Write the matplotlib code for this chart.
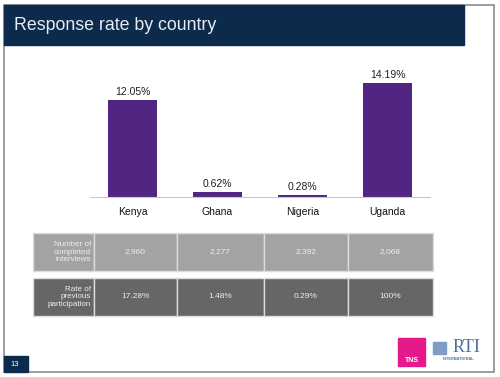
import matplotlib.pyplot as plt
from matplotlib.patches import Rectangle

plt.rcParams['font.family'] = ['Liberation Sans', 'DejaVu Sans']

# Data
countries = ["Kenya", "Ghana", "Nigeria", "Uganda"]
response_rate = [12.05, 0.62, 0.28, 14.19]
interviews = ["2,960", "2,277", "2,392", "2,068"]
prev_participation = ["17.28%", "1.48%", "0.29%", "100%"]
row_labels = ["Number of\ncompleted\ninterviews", "Rate of\nprevious\nparticipation"]

W, H = 500, 377
fig = plt.figure(figsize=(W / 100, H / 100), dpi=100)

# overlay axes in pixel coordinates (origin top-left)
bg = fig.add_axes([0, 0, 1, 1])
bg.set_xlim(0, W)
bg.set_ylim(H, 0)
bg.axis('off')

# slide frame
bg.add_patch(Rectangle((4, 5), 490, 367, fill=False, edgecolor='#8c8c8c', lw=1.2))

# title bar
navy = '#0b2a4c'
bg.add_patch(Rectangle((4, 5), 460, 40, color=navy))
bg.text(14, 25, "Response rate by country", color='#e8ecf0', fontsize=12.8,
        va='center', ha='left')

# bar chart
ax = fig.add_axes([90 / W, (H - 197) / H, 340 / W, 122 / H])
x = range(len(countries))
ax.bar(x, response_rate, width=0.565, color='#512682')
ax.set_xlim(-0.5, 3.5)
ax.set_ylim(0, 122 / 8.05)
for i, v in enumerate(response_rate):
    ax.text(i, v + 0.35, f"{v:.2f}%", ha='center', va='bottom', fontsize=7.5,
            color='#202020')
ax.set_xticks(list(x))
ax.set_xticklabels(countries, fontsize=7.5, color='#111111')
ax.tick_params(axis='x', length=0, pad=7)
ax.set_yticks([])
for s in ['top', 'right', 'left']:
    ax.spines[s].set_visible(False)
ax.spines['bottom'].set_color('#c8c8c8')
ax.set_facecolor('none')

# table under the chart
col_edges = [33, 94, 177, 264, 348, 433]
rows = [(233, 271, '#a3a3a3', interviews), (278, 316, '#666666', prev_participation)]
for r, (y0, y1, col, vals) in enumerate(rows):
    for c in range(5):
        bg.add_patch(Rectangle((col_edges[c], y0), col_edges[c + 1] - col_edges[c],
                               y1 - y0, facecolor=col, edgecolor='#dcdcdc', lw=1))
    bg.text(col_edges[1] - 3, (y0 + y1) / 2, row_labels[r], ha='right', va='center',
            fontsize=5.8, color='#eeeeee', linespacing=1.15)
    for c, v in enumerate(vals):
        bg.text((col_edges[c + 1] + col_edges[c + 2]) / 2, (y0 + y1) / 2, v,
                ha='center', va='center', fontsize=6, color='#eeeeee')

# page number
bg.add_patch(Rectangle((4, 356), 24, 16, color=navy))
bg.text(15, 364, "13", color='white', fontsize=5.5, ha='center', va='center')

# logos
bg.add_patch(Rectangle((398, 338), 27, 28, color='#e5198a'))
bg.text(411.5, 360, "TNS", color='white', fontsize=5, ha='center', va='center',
        fontweight='bold')
bg.add_patch(Rectangle((433, 342), 13, 12, color='#7f9cc4'))
bg.text(466, 348, "RTI", color='#4f6fa0', fontsize=13, ha='center', va='center',
        family=['Liberation Serif', 'DejaVu Serif'])
bg.text(459, 359.5, "INTERNATIONAL", color='#4f6fa0', fontsize=2.8, ha='center',
        va='center', fontweight='bold')

fig.savefig("out.png", dpi=100)
